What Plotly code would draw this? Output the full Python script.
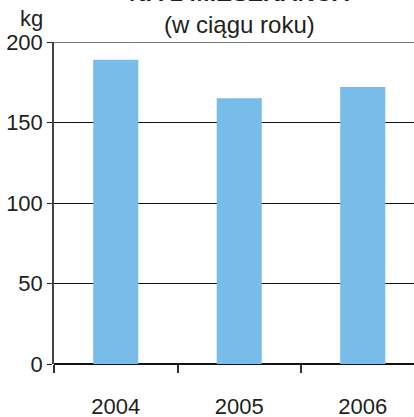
import plotly.graph_objects as go

years = [2004, 2005, 2006]
values = [189, 165, 172]
y_ticks = [0, 50, 100, 150, 200]
title_text = "NA 1 MIESZKAŃCA"
subtitle_text = "(w ciągu roku)"
unit_text = "kg"

FONT = "Liberation Sans, Arial, sans-serif"
TXT = "#231f20"

fig = go.Figure(
    go.Bar(
        x=years,
        y=values,
        width=0.365,
        marker=dict(color="#78bde9", line=dict(width=0)),
        hoverinfo="skip",
    )
)

fig.update_layout(
    width=414,
    height=417,
    margin=dict(l=54, r=0, t=42, b=53, autoexpand=False),
    paper_bgcolor="white",
    plot_bgcolor="white",
    showlegend=False,
    font=dict(family=FONT, color=TXT, size=22),
    xaxis=dict(
        range=[years[0] - 0.5, years[0] - 0.5 + 360 / 123.5],
        tickvals=years,
        ticktext=[str(y) for y in years],
        ticks="",
        showgrid=False,
        zeroline=False,
        showline=False,
        automargin=False,
        ticklabelstandoff=27,
        tickfont=dict(size=22, color=TXT),
        minor=dict(
            tickvals=[y - 0.5 for y in years],
            ticks="outside",
            ticklen=8,
            tickwidth=1.5,
            tickcolor="#333",
            showgrid=False,
        ),
        fixedrange=True,
    ),
    yaxis=dict(
        range=[y_ticks[0], y_ticks[-1]],
        tickvals=y_ticks,
        ticks="outside",
        ticklen=5,
        tickwidth=1.2,
        tickcolor="#222",
        showline=True,
        linecolor="#444",
        linewidth=1.5,
        showgrid=True,
        gridcolor="#111",
        gridwidth=1.2,
        zeroline=True,
        zerolinecolor="#111",
        zerolinewidth=1.6,
        automargin=False,
        tickfont=dict(size=22, color=TXT),
        fixedrange=True,
    ),
    shapes=[
        dict(
            type="line", xref="paper", yref="y",
            x0=0, x1=1, y0=y_ticks[-1], y1=y_ticks[-1],
            line=dict(color="#7a7a7a", width=2),
            layer="above",
        )
    ],
    annotations=[
        dict(
            text=unit_text, xref="paper", yref="paper", x=0, y=1,
            xanchor="right", yanchor="middle", xshift=-9, yshift=24,
            showarrow=False, font=dict(size=22, color=TXT),
        ),
        dict(
            text=subtitle_text, xref="x", yref="paper", x=years[1], y=1,
            xanchor="center", yanchor="middle", yshift=18,
            showarrow=False, font=dict(size=24, color=TXT),
        ),
        dict(
            text="<b>" + title_text + "</b>", xref="x", yref="paper", x=years[1], y=1,
            xanchor="center", yanchor="middle", yshift=50,
            showarrow=False, font=dict(size=24, color=TXT),
        ),
    ],
)

fig.write_html(
    "out.html",
    config={"displayModeBar": False},
    post_script="document.body.style.margin='0';document.body.style.overflow='hidden';",
)
